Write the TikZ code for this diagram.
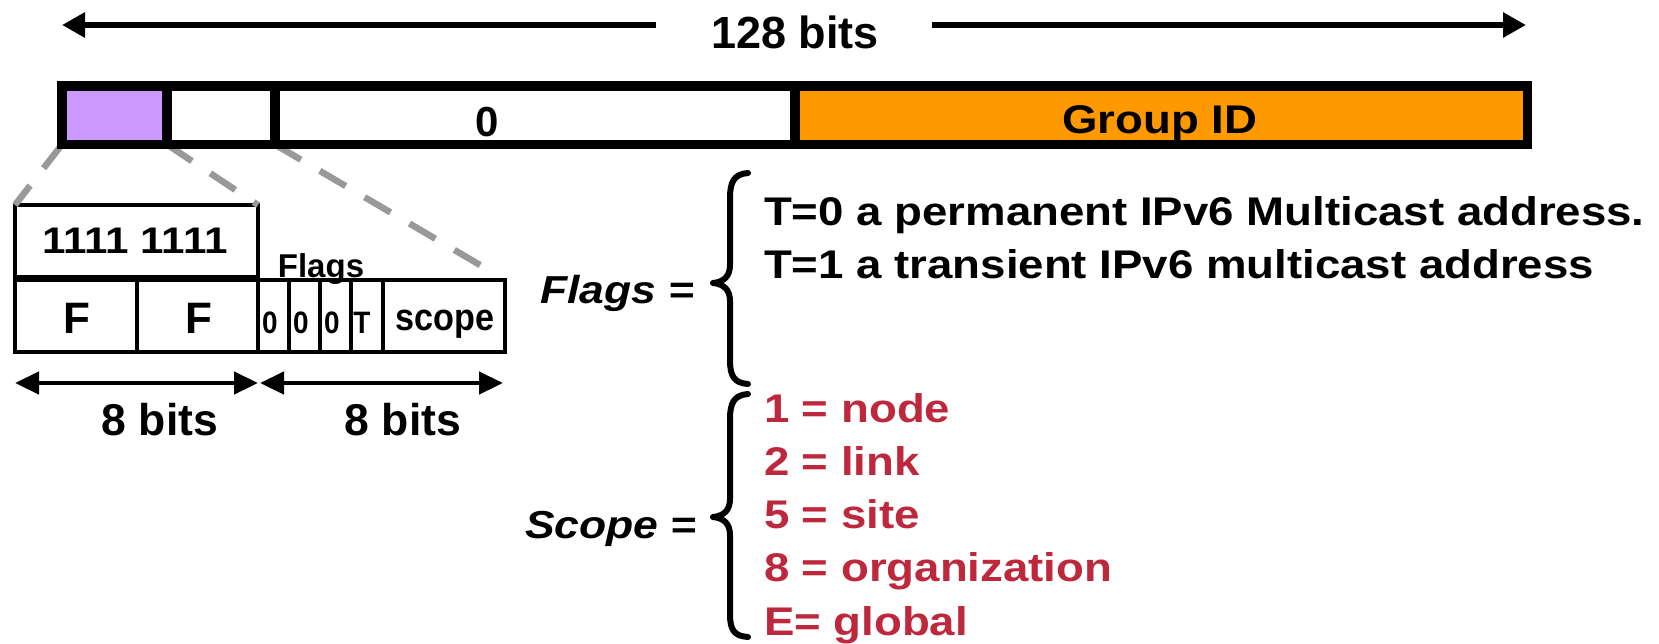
\documentclass[tikz,border=0pt]{standalone}
\usepackage{fontspec}
\setmainfont{Liberation Sans}
\newfontfamily\widefont{Liberation Sans}[FakeStretch=1.14]
\newfontfamily\condfont{Liberation Sans}[FakeStretch=0.9]
\usetikzlibrary{arrows.meta}
\definecolor{lilac}{HTML}{CC99FF}
\definecolor{amber}{HTML}{FF9900}
\definecolor{scopered}{RGB}{190,40,60}
\definecolor{zoomgray}{HTML}{999999}
\newcommand\sz[1]{\fontsize{#1}{#1}\selectfont}

\begin{document}
\begin{tikzpicture}[x=1pt,y=-1pt,
  bar/.style={draw, line width=9.5pt, inner sep=0pt, outer sep=0pt, minimum height=58.5pt},
  fieldbox/.style={draw, line width=4pt, inner sep=0pt, outer sep=0pt, minimum height=72pt},
  zoomline/.style={draw=zoomgray, line width=6.5pt, dash pattern=on 30pt off 22pt},
  spanarrow/.style={line width=6.5pt, -{Triangle[length=23pt,width=24pt]}},
  dimarrow/.style={line width=4.5pt, {Triangle[length=24pt,width=22pt]}-{Triangle[length=24pt,width=22pt]}},
  bracepath/.style={line width=6pt, line cap=round, line join=round},
  txt/.style={inner sep=0pt, outer sep=0pt, anchor=base},
  txtw/.style={inner sep=0pt, outer sep=0pt, anchor=base west},
  item/.style={txtw, text=scopered, font=\widefont\bfseries\sz{40}}
]
\useasboundingbox (0,0) rectangle (1659,643);

% overall width arrow
\node[txt, font=\bfseries\sz{45}] (w128) at (795,48) {128 bits};
\coordinate (spanL) at (62,25);
\coordinate (spanR) at (1526,25);
\draw[spanarrow] ([xshift=-55pt]w128.west |- spanL) -- (spanL);
\draw[spanarrow] ([xshift=53pt]w128.east |- spanR) -- (spanR);

% expanded first 16 bits
\node[fieldbox, minimum width=243pt] (ones) at (136.5,241) {};
\node[fieldbox, minimum width=122pt] (f1) at (76,316) {};
\node[fieldbox, minimum width=121pt] (f2) at (197.5,316) {};
\node[fieldbox, minimum width=31pt] (fl1) at (273.5,316) {};
\node[fieldbox, minimum width=31pt] (fl2) at (304.5,316) {};
\node[fieldbox, minimum width=31pt] (fl3) at (335.5,316) {};
\node[fieldbox, minimum width=32pt] (fl4) at (367,316) {};
\node[fieldbox, minimum width=122pt] (sc) at (444,316) {};

\node[txt, font=\widefont\bfseries\sz{37}] (onesT) at (135,253) {1111 1111};
\node[txt, font=\bfseries\sz{44}] (f1T) at (77,333) {F};
\node[txt, font=\bfseries\sz{44}] (f2T) at (199,333) {F};
\node[txt, font=\condfont\bfseries\sz{31}] (fl1T) at (270,333) {0};
\node[txt, font=\condfont\bfseries\sz{31}] (fl2T) at (301,333) {0};
\node[txt, font=\condfont\bfseries\sz{31}] (fl3T) at (332,333) {0};
\node[txt, font=\condfont\bfseries\sz{31}] (fl4T) at (362,333) {T};
\node[txt, font=\condfont\bfseries\sz{38}] (scT) at (445,330) {scope};
\node[txt, font=\bfseries\sz{33}] (flagsT) at (321,277) {Flags};

% zoom guides from the address bar to the expanded field
\draw[zoomline] (62,144.5) coordinate (gA) -- (ones.north west);
\draw[zoomline] (167,144.5) coordinate (gB) -- (ones.north east);
\draw[zoomline] (275,144.5) coordinate (gC) -- ([xshift=-8pt,yshift=5pt]sc.north east);

% 128-bit address bar
\node[bar, fill=lilac, minimum width=105pt] (c1) at (114.5,115.25) {};
\node[bar, minimum width=108pt] (c2) at (221,115.25) {};
\node[bar, minimum width=520pt] (c3) at (535,115.25) {};
\node[bar, fill=amber, minimum width=732.5pt] (c4) at (1161.25,115.25) {};
\node[txt, font=\bfseries\sz{42}] (zeroT) at (487,136) {0};
\node[txt, font=\widefont\bfseries\sz{40}] (gidT) at (1160,133) {Group ID};

% bit-width markers under the expanded field
\coordinate (dimA) at (15,383);
\coordinate (dimB) at (258,383);
\coordinate (dimC) at (260,383);
\coordinate (dimD) at (503,383);
\draw[dimarrow] (dimA) -- (dimB);
\draw[dimarrow] (dimC) -- (dimD);
\node[txt, font=\bfseries\sz{44.5}] (b8a) at (160,435) {8 bits};
\node[txt, font=\bfseries\sz{44.5}] (b8b) at (403,435) {8 bits};

% flags legend
\node[txtw, font=\widefont\bfseries\itshape\sz{39}] (flagsEq) at (540,303) {Flags =};
\draw[bracepath] (748,173) .. controls (734,174) and (730,182) .. (730,198)
  -- (730,265) .. controls (730,276) and (724,282) .. (713,283)
  .. controls (724,284) and (730,290) .. (730,301)
  -- (730,360) .. controls (730,376) and (734,383) .. (748,384);
\node[txtw, font=\widefont\bfseries\sz{40}] (t0) at (764,225) {T=0 a permanent IPv6 Multicast address.};
\node[txtw, font=\widefont\bfseries\sz{40}] (t1) at (764,278) {T=1 a transient IPv6 multicast address};

% scope legend
\node[txtw, font=\widefont\bfseries\itshape\sz{39}] (scopeEq) at (525,538) {Scope =};
\draw[bracepath] (748,394) .. controls (734,395) and (730,403) .. (730,419)
  -- (730,499) .. controls (730,510) and (724,516) .. (713,517)
  .. controls (724,518) and (730,524) .. (730,535)
  -- (730,614) .. controls (730,630) and (734,636) .. (748,637);
\node[item] (s1) at (764,422) {1 = node};
\node[item] (s2) at (764,475.3) {2 = link};
\node[item] (s5) at (764,528.6) {5 = site};
\node[item] (s8) at (764,581.9) {8 = organization};
\node[item] (sE) at (764,635.2) {E= global};
\end{tikzpicture}
\end{document}
